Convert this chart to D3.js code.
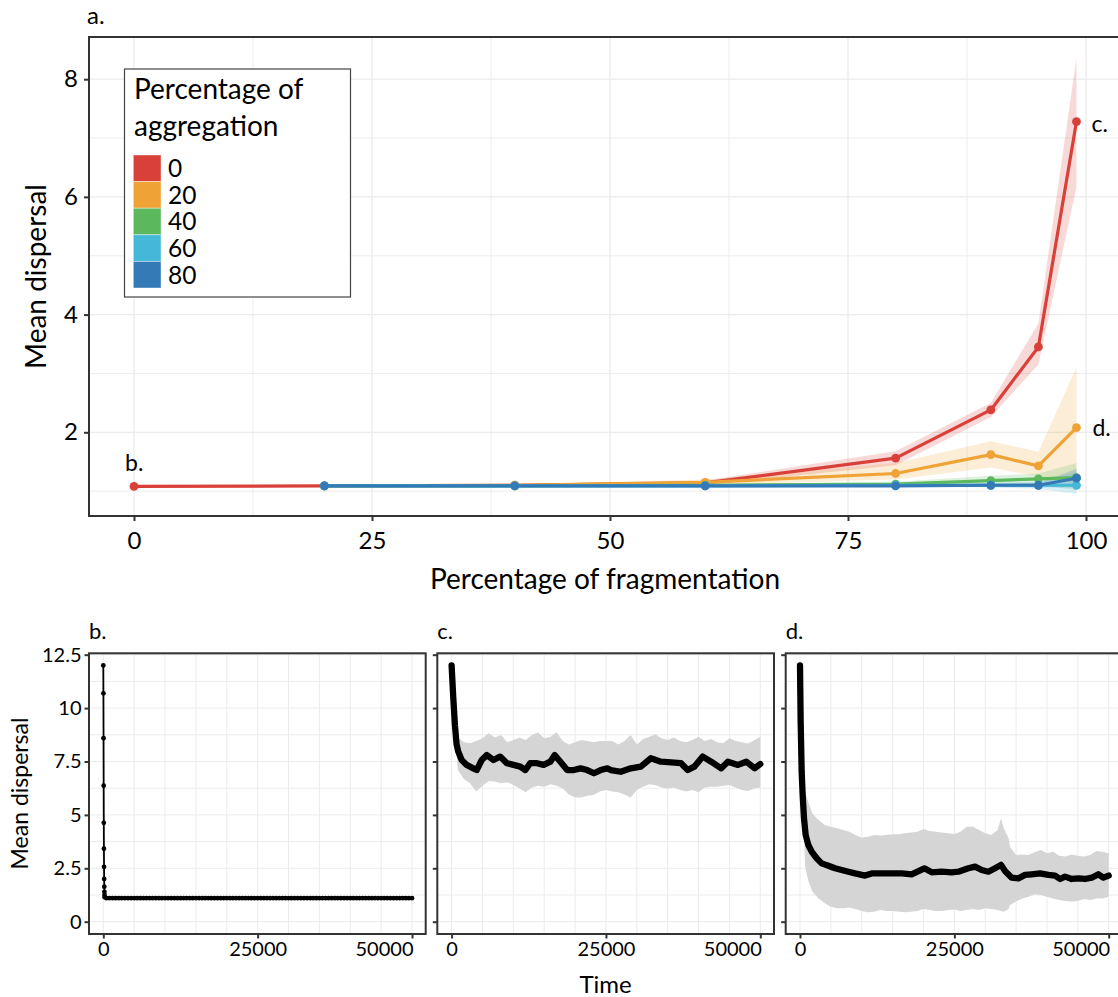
<!DOCTYPE html>
<html><head><meta charset="utf-8">
<script src="https://cdn.jsdelivr.net/npm/d3@7"></script>
<style>body{margin:0;background:#fff} svg text{font-family:Lato,'Open Sans',sans-serif;fill:#000}</style>
</head><body><svg id="c" width="1118" height="997"></svg>
<script>
// ---------- DATA: panel a ----------
const aggregationLevels = ["0","20","40","60","80"];
const seriesColors = ["#D9403A","#EFA336","#5CB85C","#45B8DA","#337AB7"];
const frag0 = [0,20,40,60,80,90,95,99];
const fragOther = [20,40,60,80,90,95,99];
const mean0 = [1.08,1.09,1.10,1.14,1.56,2.38,3.45,7.28];
const low0  = [1.06,1.07,1.08,1.10,1.44,2.26,3.15,6.17];
const up0   = [1.10,1.11,1.12,1.18,1.68,2.50,3.85,8.36];
const mean20 = [1.09,1.10,1.15,1.30,1.62,1.43,2.08];
const low20  = [1.08,1.08,1.10,1.20,1.40,1.25,1.13];
const up20   = [1.10,1.12,1.20,1.48,1.85,1.67,3.10];
const mean40 = [1.09,1.09,1.10,1.12,1.18,1.21,1.23];
const low40  = [1.08,1.08,1.08,1.08,1.10,1.10,1.02];
const up40   = [1.10,1.10,1.12,1.16,1.26,1.30,1.48];
const mean60 = [1.09,1.09,1.09,1.10,1.10,1.10,1.10];
const low60  = [1.08,1.08,1.08,1.08,1.06,1.04,0.95];
const up60   = [1.10,1.10,1.10,1.12,1.14,1.16,1.32];
const mean80 = [1.09,1.09,1.09,1.09,1.10,1.10,1.22];
const low80  = [1.08,1.08,1.08,1.08,1.07,1.06,1.06];
const up80   = [1.10,1.10,1.10,1.11,1.13,1.14,1.38];
const fragTicks = [0,25,50,75,100];
const dispTicksTop = [2,4,6,8];

// ---------- DATA: panel b ----------
const bTime = [0,20,40,60,80,100,120,140,160,180,200,220,
 500,1000,1500,2000,2500,3000,3500,4000,4500,5000,5500,6000,6500,7000,7500,8000,8500,9000,9500,10000,
 10500,11000,11500,12000,12500,13000,13500,14000,14500,15000,15500,16000,16500,17000,17500,18000,18500,19000,19500,20000,
 20500,21000,21500,22000,22500,23000,23500,24000,24500,25000,25500,26000,26500,27000,27500,28000,28500,29000,29500,30000,
 30500,31000,31500,32000,32500,33000,33500,34000,34500,35000,35500,36000,36500,37000,37500,38000,38500,39000,39500,40000,
 40500,41000,41500,42000,42500,43000,43500,44000,44500,45000,45500,46000,46500,47000,47500,48000,48500,49000,49500,50000];
const bValue = [12.0,10.69,8.59,6.37,4.63,3.42,2.57,2.0,1.64,1.40,1.25,1.15,
 1.1,1.1,1.1,1.1,1.1,1.1,1.1,1.1,1.1,1.1,1.1,1.1,1.1,1.1,1.1,1.1,1.1,1.1,1.1,1.1,
 1.1,1.1,1.1,1.1,1.1,1.1,1.1,1.1,1.1,1.1,1.1,1.1,1.1,1.1,1.1,1.1,1.1,1.1,1.1,1.1,
 1.1,1.1,1.1,1.1,1.1,1.1,1.1,1.1,1.1,1.1,1.1,1.1,1.1,1.1,1.1,1.1,1.1,1.1,1.1,1.1,
 1.1,1.1,1.1,1.1,1.1,1.1,1.1,1.1,1.1,1.1,1.1,1.1,1.1,1.1,1.1,1.1,1.1,1.1,1.1,1.1,
 1.1,1.1,1.1,1.1,1.1,1.1,1.1,1.1,1.1,1.1,1.1,1.1,1.1,1.1,1.1,1.1,1.1,1.1,1.1,1.1];

// ---------- DATA: panel c ----------
const cMeanTime = [0,270,540,810,1080,1630,2440,3520,4070,4880,5700,6770,7860,8950,10030,11120,11930,12740,13830,14910,
 16000,16700,17620,18720,19800,20880,21970,23050,24140,25230,25770,27400,29020,30650,32280,33900,35530,37160,38240,39320,
 40680,42040,43670,44750,46380,47740,49090,50000];
const cMean = [12.0,10.5,9.2,8.3,7.96,7.57,7.34,7.18,7.10,7.57,7.80,7.57,7.73,7.42,7.34,7.26,7.10,7.42,7.42,7.34,
 7.49,7.80,7.49,7.10,7.10,7.18,7.10,6.95,7.10,7.18,7.10,7.02,7.18,7.26,7.65,7.49,7.46,7.42,7.10,7.26,
 7.73,7.49,7.18,7.49,7.34,7.49,7.18,7.38];
const cBandTime = [0,500,1000,2000,3000,4000,5000,6000,7000,8000,9000,10000,11000,12000,13000,14000,15000,16000,17000,18000,19000,20000,
 21000,22000,23000,24000,25000,26000,27000,28000,29000,30000,31000,32000,33000,34000,35000,36000,37000,38000,39000,40000,
 41000,42000,43000,44000,45000,46000,47000,48000,49000,50000];
const cUpper = [12.0,9.3,8.62,8.40,8.35,8.46,8.59,8.82,8.62,8.74,8.40,8.51,8.62,8.51,8.74,8.87,8.59,8.66,8.87,8.46,8.30,8.40,
 8.51,8.46,8.40,8.46,8.46,8.46,8.30,8.46,8.74,8.30,8.55,8.66,8.77,8.59,8.51,8.62,8.46,8.40,8.51,8.66,
 8.46,8.55,8.40,8.35,8.59,8.46,8.40,8.34,8.49,8.66];
const cLower = [12.0,9.0,7.10,6.68,6.48,6.09,6.37,6.59,6.56,6.48,6.53,6.40,6.24,6.06,6.28,6.37,6.32,6.43,6.37,6.24,5.96,5.81,
 5.81,5.90,5.93,6.09,6.17,6.09,6.06,5.96,5.81,6.17,6.32,6.43,6.40,6.28,6.24,6.28,6.17,6.09,6.17,6.06,
 6.28,6.32,6.32,6.37,6.40,6.28,6.17,6.12,6.24,6.28];

// ---------- DATA: panel d ----------
const dMeanTime = [0,108,270,432,648,918,1350,1890,2700,3510,4590,5670,6750,7830,8910,10530,11610,13230,14850,16470,
 18090,20140,21330,22950,24570,25650,27270,28350,29430,30510,31590,32560,33210,34290,35370,36450,37530,38880,40230,41310,
 42120,42930,44010,45090,46170,47250,48330,49140,50000];
const dMean = [12.0,9.36,7.02,5.93,4.84,4.06,3.59,3.28,2.97,2.73,2.62,2.50,2.42,2.34,2.26,2.16,2.26,2.26,2.26,2.26,
 2.22,2.50,2.31,2.34,2.31,2.34,2.50,2.58,2.42,2.34,2.50,2.66,2.37,2.06,2.03,2.19,2.22,2.26,2.19,2.16,
 2.00,2.11,2.00,2.03,2.00,2.06,2.22,2.06,2.16];
const dBandTime = [0,650,810,1350,2000,3000,4000,5000,6000,7000,8000,9000,10000,11000,12000,13000,14000,15000,16000,17000,18000,
 19000,20000,21000,22000,23000,24000,25000,26000,27000,28000,29000,30000,31000,32000,32560,33000,33800,34000,35000,36000,
 37000,38000,39000,40000,41000,42000,43000,44000,45000,46000,47000,48000,49000,50000];
const dUpper = [12.0,6.3,6.09,5.62,5.07,4.76,4.53,4.45,4.37,4.29,4.21,4.06,3.93,3.98,4.06,4.03,4.06,4.09,4.09,4.14,4.18,
 4.21,4.34,4.25,4.21,4.18,4.14,4.10,4.21,4.45,4.45,4.29,4.14,4.06,4.29,4.84,4.37,3.90,3.51,3.12,3.15,
 3.12,3.25,3.36,3.20,3.28,3.09,3.05,3.15,3.09,3.05,3.12,3.31,3.28,3.20];
const dLower = [12.0,4.5,2.6,1.9,1.41,1.09,0.86,0.70,0.63,0.63,0.66,0.60,0.50,0.44,0.47,0.55,0.50,0.50,0.47,0.44,0.47,
 0.50,0.60,0.55,0.50,0.50,0.55,0.57,0.50,0.55,0.60,0.55,0.63,0.60,0.55,0.50,0.47,0.60,0.78,0.94,1.09,
 1.17,1.28,1.25,1.17,1.09,1.02,0.97,0.94,0.97,1.06,1.02,1.09,1.09,1.17];
const timeTicks = [0,25000,50000];
const dispTicksBottom = [0,2.5,5,7.5,10,12.5];

// ---------- DRAWING ----------
const svg = d3.select("#c");
const defs = svg.append("defs");
const BORDER = "#333333", GRID = "#ebebeb";

function styleAxis(g, fs) {
  g.select(".domain").remove();
  g.selectAll(".tick line").attr("stroke", BORDER).attr("stroke-width", 2);
  g.selectAll(".tick text").attr("font-size", fs).attr("fill", "#000")
    .style("font-family", "Lato,'Open Sans',sans-serif");
}

// ===== Panel a =====
const A = {left: 89, right: 1124, top: 37, bottom: 516};
const ax = d3.scaleLinear().domain([0, 100]).range([134, 1086]);
const ay = d3.scaleLinear().domain([1, 8]).range([491.15, 79.2]);
defs.append("clipPath").attr("id", "clipA").append("rect")
  .attr("x", A.left).attr("y", A.top).attr("width", A.right - A.left).attr("height", A.bottom - A.top);
const gA = svg.append("g");
const gridA = gA.append("g");
d3.range(0, 101, 12.5).forEach(v => {
  gridA.append("line").attr("x1", ax(v)).attr("x2", ax(v)).attr("y1", A.top).attr("y2", A.bottom)
    .attr("stroke", GRID).attr("stroke-width", v % 25 === 0 ? 1.3 : 0.9);
});
d3.range(1, 9, 1).forEach(v => {
  gridA.append("line").attr("x1", A.left).attr("x2", A.right).attr("y1", ay(v)).attr("y2", ay(v))
    .attr("stroke", GRID).attr("stroke-width", v % 2 === 0 ? 1.3 : 0.9);
});

const seriesA = [
  {x: frag0, m: mean0, lo: low0, hi: up0},
  {x: fragOther, m: mean20, lo: low20, hi: up20},
  {x: fragOther, m: mean40, lo: low40, hi: up40},
  {x: fragOther, m: mean60, lo: low60, hi: up60},
  {x: fragOther, m: mean80, lo: low80, hi: up80}
];
const plotA = gA.append("g").attr("clip-path", "url(#clipA)");
const areaA = d3.area().x(d => ax(d.x)).y0(d => ay(d.lo)).y1(d => ay(d.hi));
const lineA = d3.line().x(d => ax(d.x)).y(d => ay(d.m));
const rowsA = seriesA.map(s => s.x.map((x, i) => ({x, m: s.m[i], lo: s.lo[i], hi: s.hi[i]})));
rowsA.forEach((rows, i) => {
  plotA.append("path").datum(rows).attr("d", areaA).attr("fill", seriesColors[i]).attr("fill-opacity", 0.2);
});
rowsA.forEach((rows, i) => {
  plotA.append("path").datum(rows).attr("d", lineA).attr("fill", "none")
    .attr("stroke", seriesColors[i]).attr("stroke-width", 3.2).attr("stroke-linejoin", "round");
  plotA.selectAll(null).data(rows).enter().append("circle")
    .attr("cx", d => ax(d.x)).attr("cy", d => ay(d.m)).attr("r", 4.4).attr("fill", seriesColors[i]);
});
gA.append("rect").attr("x", A.left).attr("y", A.top).attr("width", A.right - A.left).attr("height", A.bottom - A.top)
  .attr("fill", "none").attr("stroke", BORDER).attr("stroke-width", 2);
styleAxis(gA.append("g").attr("transform", `translate(${A.left},0)`)
  .call(d3.axisLeft(ay).tickValues(dispTicksTop).tickFormat(d3.format("d")).tickSize(5).tickPadding(6)), 24);
styleAxis(gA.append("g").attr("transform", `translate(0,${A.bottom})`)
  .call(d3.axisBottom(ax).tickValues(fragTicks).tickFormat(d3.format("d")).tickSize(5).tickPadding(11)), 24);

svg.append("text").attr("x", 87).attr("y", 24).attr("font-size", 24).text("a.");
svg.append("text").attr("transform", "translate(46,276.5) rotate(-90)").attr("text-anchor", "middle")
  .attr("font-size", 28).text("Mean dispersal");
svg.append("text").attr("x", 605).attr("y", 589).attr("text-anchor", "middle")
  .attr("font-size", 28).text("Percentage of fragmentation");

// annotations
svg.append("text").attr("x", ax(frag0[0]) - 9).attr("y", ay(mean0[0]) - 15).attr("font-size", 23).text("b.");
svg.append("text").attr("x", ax(frag0[7]) + 15).attr("y", ay(mean0[7]) + 10).attr("font-size", 23).text("c.");
svg.append("text").attr("x", ax(fragOther[6]) + 16).attr("y", ay(mean20[6]) + 8).attr("font-size", 23).text("d.");

// legend
const leg = svg.append("g");
leg.append("rect").attr("x", 124.5).attr("y", 69).attr("width", 226).attr("height", 228)
  .attr("fill", "#fff").attr("stroke", "#444").attr("stroke-width", 1.2);
leg.append("text").attr("x", 134).attr("y", 98.5).attr("font-size", 28).text("Percentage of");
leg.append("text").attr("x", 134).attr("y", 136).attr("font-size", 28).text("aggregation");
aggregationLevels.forEach((lab, i) => {
  const y0 = 155 + i * 26.6;
  leg.append("rect").attr("x", 133.3).attr("y", y0).attr("width", 27.7).attr("height", 26.6)
    .attr("fill", seriesColors[i]).attr("stroke", "#ffffff").attr("stroke-opacity", 0.5).attr("stroke-width", 0.8);
  leg.append("text").attr("x", 168).attr("y", y0 + 13.3 + 8.8).attr("font-size", 24.5).text(lab);
});

// ===== Bottom panels =====
const B = {top: 653.3, bottom: 934, width: 336.7};
const by = d3.scaleLinear().domain([0, 12.5]).range([921.7, 654.7]);
const panels = [
  {left: 89, label: "b."},
  {left: 437.3, label: "c."},
  {left: 785.7, label: "d."}
];
panels.forEach((p, pi) => {
  const bx = d3.scaleLinear().domain([0, 50000]).range([p.left + 14.3, p.left + 323]);
  p.x = bx;
  const g = svg.append("g");
  const id = "clipB" + pi;
  defs.append("clipPath").attr("id", id).append("rect")
    .attr("x", p.left).attr("y", B.top).attr("width", B.width).attr("height", B.bottom - B.top);
  d3.range(0, 50001, 5000).forEach(v => {
    g.append("line").attr("x1", bx(v)).attr("x2", bx(v)).attr("y1", B.top).attr("y2", B.bottom)
      .attr("stroke", GRID).attr("stroke-width", 1);
  });
  d3.range(0, 12.51, 1.25).forEach(v => {
    g.append("line").attr("x1", p.left).attr("x2", p.left + B.width).attr("y1", by(v)).attr("y2", by(v))
      .attr("stroke", GRID).attr("stroke-width", 1);
  });
  const plot = g.append("g").attr("clip-path", `url(#${id})`);
  p.plot = plot;
  p.g = g;
});

// panel b: line + points
{
  const p = panels[0];
  const rows = bTime.map((t, i) => ({t, v: bValue[i]}));
  p.plot.append("path").datum(rows).attr("d", d3.line().x(d => p.x(d.t)).y(d => by(d.v)))
    .attr("fill", "none").attr("stroke", "#000").attr("stroke-width", 1.8);
  p.plot.selectAll(null).data(rows).enter().append("circle")
    .attr("cx", d => p.x(d.t)).attr("cy", d => by(d.v)).attr("r", 2.4).attr("fill", "#000");
}
// panels c and d: ribbon + thick mean line
[[panels[1], cBandTime, cLower, cUpper, cMeanTime, cMean],
 [panels[2], dBandTime, dLower, dUpper, dMeanTime, dMean]].forEach(([p, bt, lo, hi, mt, m]) => {
  const band = bt.map((t, i) => ({t, lo: lo[i], hi: hi[i]}));
  p.plot.append("path").datum(band)
    .attr("d", d3.area().x(d => p.x(d.t)).y0(d => by(d.lo)).y1(d => by(d.hi)))
    .attr("fill", "#d5d5d5");
  const rows = mt.map((t, i) => ({t, v: m[i]}));
  p.plot.append("path").datum(rows).attr("d", d3.line().x(d => p.x(d.t)).y(d => by(d.v)))
    .attr("fill", "none").attr("stroke", "#000").attr("stroke-width", 6.3)
    .attr("stroke-linejoin", "round").attr("stroke-linecap", "round");
});

panels.forEach((p, pi) => {
  p.g.append("rect").attr("x", p.left).attr("y", B.top).attr("width", B.width).attr("height", B.bottom - B.top)
    .attr("fill", "none").attr("stroke", BORDER).attr("stroke-width", 2);
  const yAxis = d3.axisLeft(by).tickValues(dispTicksBottom).tickFormat(d3.format("~g")).tickSize(4.5).tickPadding(3);
  if (pi > 0) yAxis.tickFormat("");
  styleAxis(p.g.append("g").attr("transform", `translate(${p.left},0)`).call(yAxis), 20);
  const xg = p.g.append("g").attr("transform", `translate(0,${B.bottom})`)
    .call(d3.axisBottom(p.x).tickValues(timeTicks).tickFormat(d3.format("d")).tickSize(4.5).tickPadding(3));
  styleAxis(xg, 20);
  // last label is right-aligned to its tick, as in the original
  xg.selectAll(".tick text").filter(d => d === timeTicks[timeTicks.length - 1])
    .attr("text-anchor", "end").attr("x", 1);
  svg.append("text").attr("x", p.left).attr("y", 639).attr("font-size", 22).text(p.label);
});
svg.append("text").attr("transform", "translate(28,793.5) rotate(-90)").attr("text-anchor", "middle")
  .attr("font-size", 23).text("Mean dispersal");
svg.append("text").attr("x", 605.6).attr("y", 993).attr("text-anchor", "middle")
  .attr("font-size", 24).text("Time");
</script></body></html>
